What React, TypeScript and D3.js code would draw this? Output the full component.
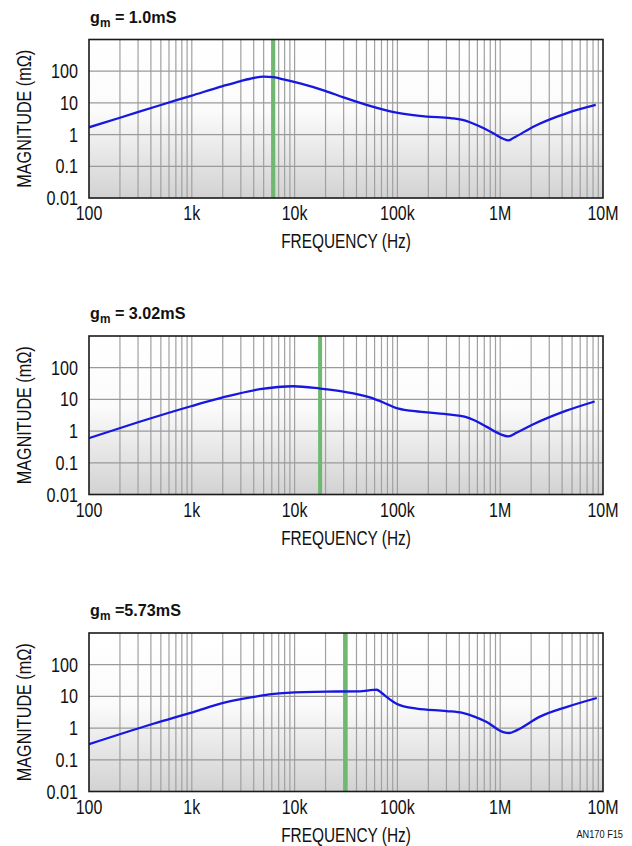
import React from "react";
import * as d3 from "d3";

const W = 632;
const H = 846;

// Panel titles (g_m values)
const titles = [" = 1.0mS", " = 3.02mS", " =5.73mS"];
// Green marker frequencies (Hz)
const markers = [6200, 17700, 31400];

// Panel 1 (gm = 1.0mS)
const freq1 = [100, 200, 500, 1000, 2000, 3000, 4000, 5000, 6200, 8000, 11300, 19800, 29800, 50000, 98000, 193000, 330000, 450000, 590000, 857000, 1070000, 1200000, 1340000, 2100000, 4400000, 8500000];
const mag1 = [1.7, 3.4, 8.6, 17, 34, 49, 61, 67, 65, 54, 41, 24, 15, 8.6, 4.9, 3.7, 3.3, 2.8, 2.0, 1.1, 0.74, 0.66, 0.78, 1.78, 4.7, 8.6];

// Panel 2 (gm = 3.02mS)
const freq2 = [100, 300, 1000, 2000, 4600, 9700, 17700, 29800, 54000, 73000, 98000, 133000, 193000, 330000, 450000, 560000, 740000, 1000000, 1200000, 1440000, 2100000, 4400000, 8300000];
const mag2 = [0.6, 1.9, 6.2, 11.5, 21, 26, 22, 17.6, 11.6, 8, 5.3, 4.4, 3.9, 3.3, 2.85, 2.2, 1.36, 0.8, 0.68, 0.89, 1.64, 4.4, 8.6];

// Panel 3 (gm = 5.73mS)
const freq3 = [100, 422, 1036, 2020, 3000, 4000, 6000, 8400, 20500, 43000, 58000, 63000, 70000, 79000, 98000, 154000, 300000, 430000, 560000, 740000, 1070000, 1240000, 1440000, 2440000, 4400000, 8700000];
const mag3 = [0.31, 1.37, 3.2, 6.2, 8.2, 9.6, 11.8, 13, 14.2, 14.4, 16, 16.2, 13, 9.5, 5.9, 4.1, 3.45, 3.0, 2.3, 1.55, 0.75, 0.7, 0.85, 2.3, 4.6, 8.9];

const xTickValues = [100, 1e3, 1e4, 1e5, 1e6, 1e7];
const xTickLabels = ["100", "1k", "10k", "100k", "1M", "10M"];
const yTickValues = [0.01, 0.1, 1, 10, 100];
const yTickLabels = ["0.01", "0.1", "1", "10", "100"];

const series = [
  { f: freq1, m: mag1 },
  { f: freq2, m: mag2 },
  { f: freq3, m: mag3 },
];

const LEFT = 89;
const RIGHT = 603;
const PH = 158.5;
const TOPS = [39.5, 336, 633];
const FONT = "'Liberation Sans', Arial, Helvetica, sans-serif";

function CText(props: any) {
  const { x, y, size, sx = 0.78, anchor = "start", weight = "normal", rotate = 0, fill = "#111", children } = props;
  return (
    <text
      transform={`translate(${x},${y}) rotate(${rotate}) scale(${sx},1)`}
      fontFamily={FONT}
      fontSize={size}
      fontWeight={weight}
      textAnchor={anchor}
      fill={fill}
    >
      {children}
    </text>
  );
}

function Panel({ idx }: { idx: number }) {
  const top = TOPS[idx];
  const bottom = top + PH;
  const x = d3.scaleLog().domain([100, 1e7]).range([LEFT, RIGHT]);
  const y = d3.scaleLog().domain([0.01, 1000]).range([bottom, top]);
  const s = series[idx];
  const pts: [number, number][] = s.f.map((f, i) => [x(f), y(s.m[i])]);
  const line = d3.line().curve(d3.curveMonotoneX)(pts) || "";

  const minor: number[] = [];
  for (let e = 2; e < 7; e++) {
    for (let k = 1; k <= 9; k++) {
      const v = k * Math.pow(10, e);
      if (v > 100 && v < 1e7) minor.push(v);
    }
  }
  const gid = `bg${idx}`;
  const clip = `clip${idx}`;
  return (
    <g>
      <defs>
        <linearGradient id={gid} x1="0" y1="0" x2="0" y2="1">
          <stop offset="0%" stopColor="#ffffff" />
          <stop offset="45%" stopColor="#fbfbfb" />
          <stop offset="100%" stopColor="#d2d2d2" />
        </linearGradient>
        <clipPath id={clip}>
          <rect x={LEFT} y={top} width={RIGHT - LEFT} height={PH} />
        </clipPath>
      </defs>
      <rect x={LEFT} y={top} width={RIGHT - LEFT} height={PH} fill={`url(#${gid})`} />
      {minor.map((v) => (
        <line key={"v" + v} x1={x(v)} x2={x(v)} y1={top} y2={bottom} stroke="#a0a0a0" strokeWidth={1.2} />
      ))}
      {[0.1, 1, 10, 100].map((v) => (
        <line key={"h" + v} x1={LEFT} x2={RIGHT} y1={y(v)} y2={y(v)} stroke="#9a9a9a" strokeWidth={1.2} />
      ))}
      <line
        x1={x(markers[idx])}
        x2={x(markers[idx])}
        y1={top}
        y2={bottom}
        stroke="#70b870"
        strokeWidth={4}
      />
      <path d={line} fill="none" stroke="#1717e0" strokeWidth={2.3} clipPath={`url(#${clip})`} />
      <rect x={LEFT} y={top} width={RIGHT - LEFT} height={PH} fill="none" stroke="#1a1a1a" strokeWidth={1.6} />

      {/* title */}
      <text
        transform={`translate(${LEFT + 1},${top - 17}) scale(0.95,1)`}
        fontFamily={FONT}
        fontSize={17}
        fontWeight="bold"
        fill="#111"
      >
        g<tspan dy={4} fontSize={12.5}>m</tspan>
        <tspan dy={-4}>{titles[idx]}</tspan>
      </text>

      {/* y tick labels */}
      {yTickValues.map((v, i) => (
        <CText key={"yl" + v} x={78} y={y(v) + 7} size={19.5} sx={0.83} anchor="end">
          {yTickLabels[i]}
        </CText>
      ))}
      {/* x tick labels */}
      {xTickValues.map((v, i) => (
        <CText key={"xl" + v} x={x(v)} y={bottom + 22} size={19.5} sx={0.82} anchor="middle">
          {xTickLabels[i]}
        </CText>
      ))}
      <CText x={(LEFT + RIGHT) / 2} y={bottom + 50} size={19.5} sx={0.79} anchor="middle">
        FREQUENCY (Hz)
      </CText>
      <CText x={31} y={(top + bottom) / 2} size={19.5} sx={0.83} anchor="middle" rotate={-90}>
        MAGNITUDE (mΩ)
      </CText>
    </g>
  );
}

export default function App() {
  return (
    <svg
      width={W}
      height={H}
      viewBox={`0 0 ${W} ${H}`}
      style={{ position: "absolute", left: 0, top: 0, background: "#fff" }}
    >
      <rect x={0} y={0} width={W} height={H} fill="#fff" />
      {[0, 1, 2].map((i) => (
        <Panel key={i} idx={i} />
      ))}
      <CText x={623} y={838} size={11.5} sx={0.8} anchor="end" weight="normal">
        AN170 F15
      </CText>
    </svg>
  );
}
